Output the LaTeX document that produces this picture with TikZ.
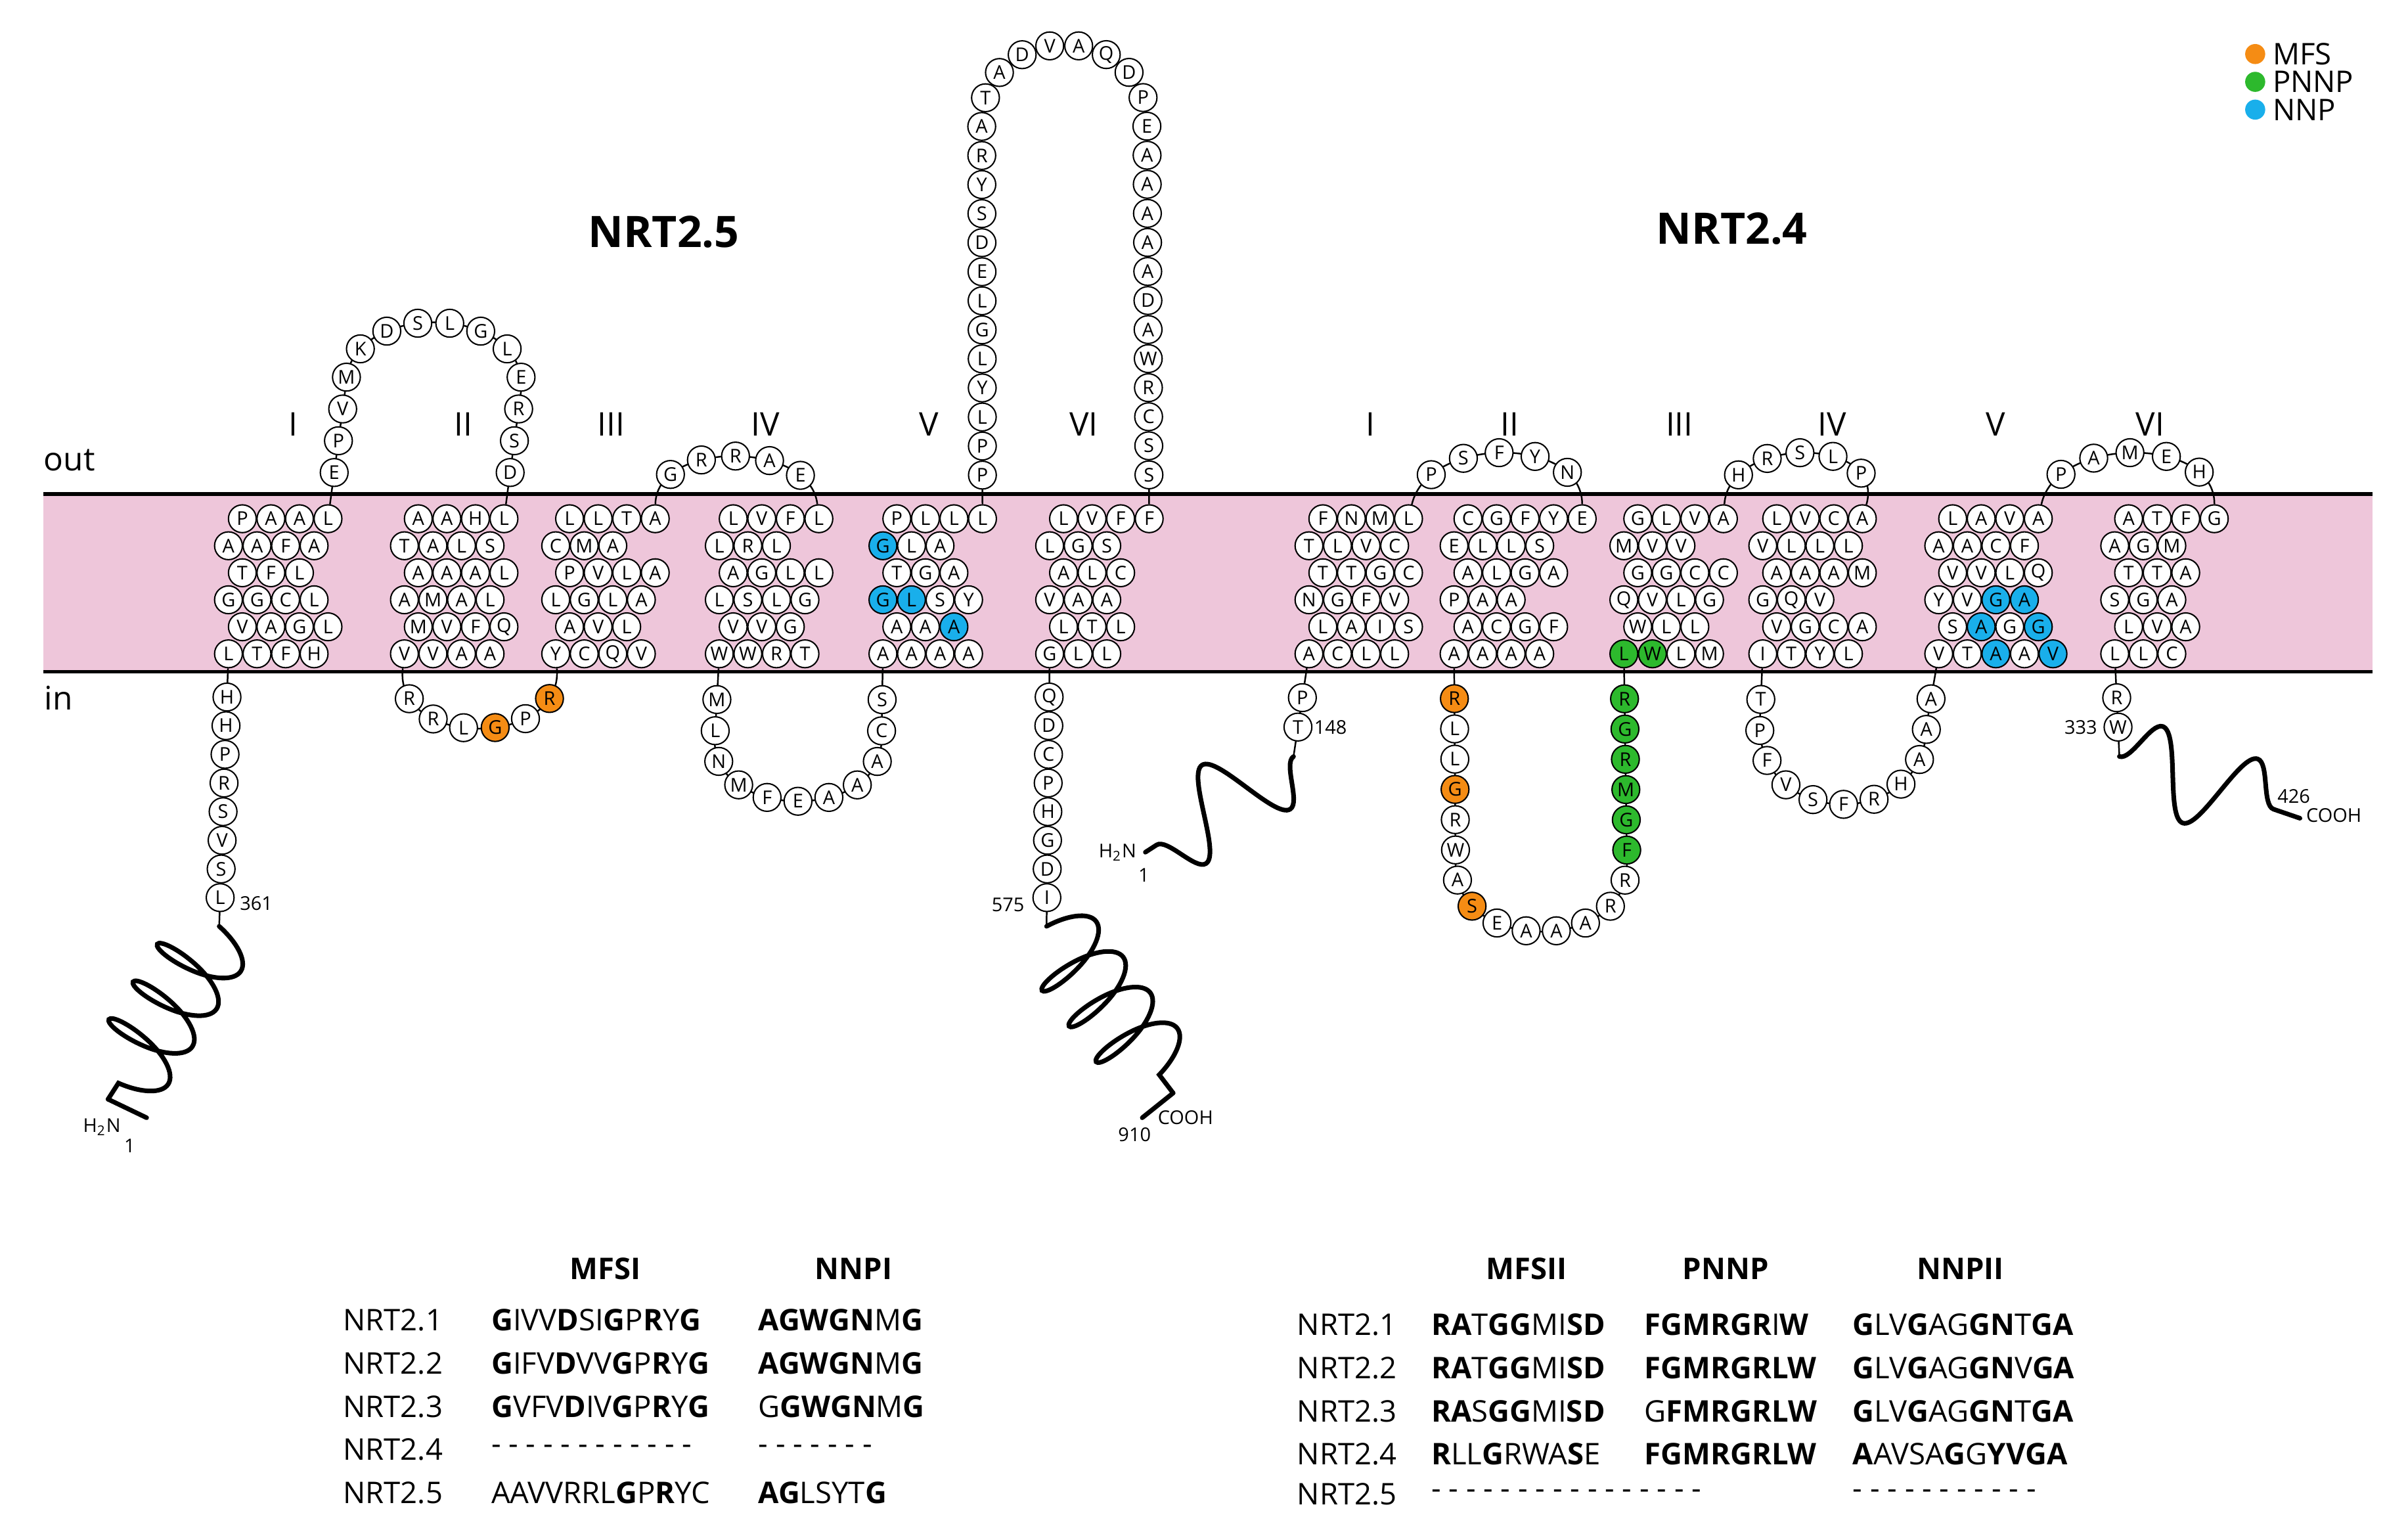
\documentclass[tikz,border=0pt]{standalone}
\usepackage{fontspec}
\setmainfont{Open Sans}
\usetikzlibrary{decorations.markings, decorations.pathmorphing}

\definecolor{mfsorange}{RGB}{245,140,20}
\definecolor{pnnpgreen}{RGB}{45,185,45}
\definecolor{nnpblue}{RGB}{25,175,235}
\definecolor{lipid}{RGB}{238,198,218}

% helix: name, x, y, rows of residues
\newcommand\helix[4]{%
  \foreach \row [count=\r] in {#4} {
    \foreach \c/\s [count=\k] in \row {
      \node[res, rc/\s/.try] (#1-\r-\k) at ({#2+(\k-1)*18.5+mod(\r,2)*9}, {#3+(\r-1)*17.5}) {\c};
    }
  }}

% loop: name, residues, path
\newcommand\resloop[3]{%
  \foreach \c [count=\n] in {#2}{\xdef\nres{\n}}%
  \pgfmathsetmacro\rstep{1/(\nres+1)}%
  \pgfmathsetmacro\rend{(\nres+0.5)/(\nres+1)}%
  \def\reslist{#2}%
  \draw[loopline, postaction={decorate}, decoration={markings,
    mark=between positions \rstep and \rend step \rstep with {%
      \pgfkeysgetvalue{/pgf/decoration/mark info/sequence number}\rseq
      \foreach \c/\s [count=\j] in \reslist {\ifnum\j=\rseq\relax\node[res, rc/\s/.try] (#1-\j) {\c};\fi}}}] #3;}

\begin{document}
\begin{tikzpicture}[x=0.02cm, y=-0.02cm,
    res/.style={circle, draw, fill=white, line width=0.5pt, minimum size=0.36cm, inner sep=0pt, font=\fontsize{7}{7}\selectfont},
    rc/o/.style={fill=mfsorange}, rc/g/.style={fill=pnnpgreen}, rc/b/.style={fill=nnpblue},
    loopline/.style={line width=0.6pt},
    tail/.style={line width=1.7pt, line cap=round},
    helixtail/.style={tail, decorate, decoration={coil, amplitude=0.55cm, segment length=0.58cm, aspect=0.35}},
    wavetail/.style={tail, decorate, decoration={snake, amplitude=0.55cm, segment length=1.3cm}},
    memline/.style={line width=1.3pt},
    lbl/.style={font=\fontsize{7}{7}\selectfont, inner sep=1pt},
    tm/.style={font=\fontsize{12}{12}\selectfont},
    title/.style={font=\fontsize{16}{16}\selectfont\bfseries},
    tab/.style={font=\fontsize{11}{11}\selectfont, anchor=west, inner sep=0pt},
    head/.style={font=\fontsize{11}{11}\selectfont\bfseries},
    dot/.style={circle, minimum size=0.26cm, inner sep=0pt}]
\useasboundingbox (0,0) rectangle (1560,992);

% membrane
\fill[lipid] (28,320) rectangle (1537,435);
\draw[memline] (28,320) -- (1537,320);
\draw[memline] (28,435) -- (1537,435);
\node[tm] (out) at (45,298) {out};
\node[tm] (in) at (38,452) {in};

% titles
\node[title] (t25) at (430,150) {NRT2.5};
\node[title] (t24) at (1122,148) {NRT2.4};
\foreach \x/\t [count=\i] in {190/I,300/II,396/III,496/IV,602/V,702/VI,888/I,978/II,1088/III,1187/IV,1293/V,1393/VI}
  \node[tm] (rn\i) at (\x,275) {\t};

% legend
\node[dot, fill=mfsorange] (lg1) at (1461,35) {};
\node[dot, fill=pnnpgreen] (lg2) at (1461,53) {};
\node[dot, fill=nnpblue] (lg3) at (1461,71) {};
\node[tab] (lt1) at (1472,35) {MFS};
\node[tab] (lt2) at (1472,53) {PNNP};
\node[tab] (lt3) at (1472,71) {NNP};

% NRT2.5 helices
\helix{a1}{148}{336}{{P,A,A,L},{A,A,F,A},{T,F,L},{G,G,C,L},{V,A,G,L},{L,T,F,H}}
\helix{a2}{262}{336}{{A,A,H,L},{T,A,L,S},{A,A,A,L},{A,M,A,L},{M,V,F,Q},{V,V,A,A}}
\helix{a3}{360}{336}{{L,L,T,A},{C,M,A},{P,V,L,A},{L,G,L,A},{A,V,L},{Y,C,Q,V}}
\helix{a4}{466}{336}{{L,V,F,L},{L,R,L},{A,G,L,L},{L,S,L,G},{V,V,G},{W,W,R,T}}
\helix{a5}{572}{336}{{P,L,L,L},{G/b,L,A},{T,G,A},{G/b,L/b,S,Y},{A,A,A/b},{A,A,A,A}}
\helix{a6}{680}{336}{{L,V,F,F},{L,G,S},{A,L,C},{V,A,A},{L,T,L},{G,L,L}}

% NRT2.5 loops
\resloop{la1}{E,P,V,M,K,D,S,L,G,L,E,R,S,D}{(a1-1-4) -- (224,250) .. controls (224,195) and (338,195) .. (338,250) -- (a2-1-4)}
\resloop{la2}{R,R,L,G/o,P,R/o}{(a2-6-1) .. controls (255,485) and (365,485) .. (a3-6-1)}
\resloop{la3}{G,R,R,A,E}{(a3-1-4) .. controls (425,285) and (525,285) .. (a4-1-4)}
\resloop{la4}{M,L,N,M,F,E,A,A,A,C,S}{(a4-6-1) -- (463,480) .. controls (463,532) and (571,532) .. (571,480) -- (a5-6-1)}
\resloop{la5}{P,P,L,Y,L,G,L,E,D,S,Y,R,A,T,A,D,V,A,Q,D,P,E,A,A,A,A,A,D,A,W,R,C,S,S}{(a5-1-4) -- (636,80) .. controls (636,12) and (743,12) .. (743,80) -- (a6-1-4)}
\coordinate (na5) at (142,600);
\coordinate (ca5) at (678,600);
\resloop{ln5}{H,H,P,R,S,V,S,L}{(a1-6-1) -- (na5)}
\resloop{lc5}{Q,D,C,P,H,G,D,I}{(a6-6-1) -- (ca5)}

% NRT2.5 tails
\coordinate (na5mid) at (70,712);
\coordinate (na5end) at (95,724);
\coordinate (ca5mid) at (760,708);
\coordinate (ca5end) at (740,724);
\draw[helixtail] (na5) -- (na5mid);
\draw[tail] (na5mid) -- (na5end);
\draw[helixtail] (ca5) -- (ca5mid);
\draw[tail] (ca5mid) -- (ca5end);
\node[lbl] (n361) at (166,585) {361};
\node[lbl] (n575) at (653,586) {575};
\node[lbl] (h2n5) at (66,730) {H\textsubscript{2}N};
\node[lbl] (one5) at (84,742) {1};
\node[lbl] (n910) at (735,735) {910};
\node[lbl] (cooh5) at (768,724) {COOH};

% NRT2.4 helices
\helix{b1}{848}{336}{{F,N,M,L},{T,L,V,C},{T,T,G,C},{N,G,F,V},{L,A,I,S},{A,C,L,L}}
\helix{b2}{942}{336}{{C,G,F,Y,E},{E,L,L,S},{A,L,G,A},{P,A,A},{A,C,G,F},{A,A,A,A}}
\helix{b3}{1052}{336}{{G,L,V,A},{M,V,V},{G,G,C,C},{Q,V,L,G},{W,L,L},{L/g,W/g,L,M}}
\helix{b4}{1142}{336}{{L,V,C,A},{V,L,L,L},{A,A,A,M},{G,Q,V},{V,G,C,A},{I,T,Y,L}}
\helix{b5}{1256}{336}{{L,A,V,A},{A,A,C,F},{V,V,L,Q},{Y,V,G/b,A/b},{S,A/b,G,G/b},{V,T,A/b,A,V/b}}
\helix{b6}{1370}{336}{{A,T,F,G},{A,G,M},{T,T,A},{S,G,A},{L,V,A},{L,L,C}}

% NRT2.4 loops
\resloop{lb1}{P,S,F,Y,N}{(b1-1-4) .. controls (925,282) and (1025,282) .. (b2-1-5)}
\resloop{lb2}{R/o,L,L,G/o,R,W,A,S/o,E,A,A,A,R,R,F/g,G/g,M/g,R/g,G/g,R/g}{(b2-6-1) -- (943,560) .. controls (943,618) and (1054,618) .. (1054,560) -- (b3-6-1)}
\resloop{lb3}{H,R,S,L,P}{(b3-1-4) .. controls (1120,282) and (1222,282) .. (b4-1-4)}
\resloop{lb4}{T,P,F,V,S,F,R,H,A,A,A}{(b4-6-1) -- (1140,470) .. controls (1140,538) and (1248,538) .. (1248,470) -- (b5-6-1)}
\resloop{lb5}{P,A,M,E,H}{(b5-1-4) .. controls (1332,282) and (1435,282) .. (b6-1-4)}
\coordinate (nb4) at (838,490);
\coordinate (cb4) at (1373,490);
\resloop{lnb}{P,T}{(b1-6-1) -- (nb4)}
\resloop{lcb}{R,W}{(b6-6-1) -- (cb4)}

% NRT2.4 tails
\coordinate (nb4end) at (742,552);
\coordinate (cb4end) at (1490,530);
\draw[wavetail] (nb4) -- (nb4end);
\draw[wavetail] (cb4) -- (cb4end);
\node[lbl] (n148) at (862,471) {148};
\node[lbl] (n333) at (1348,471) {333};
\node[lbl] (h2n4) at (724,552) {H\textsubscript{2}N};
\node[lbl] (one4) at (741,567) {1};
\node[lbl] (n426) at (1486,516) {426};
\node[lbl] (cooh4) at (1512,528) {COOH};

% alignment
\node[head] (hmfs1) at (392,822) {MFSI};
\node[head] (hnnp1) at (553,822) {NNPI};
\node[head] (hmfs2) at (989,822) {MFSII};
\node[head] (hpnnp) at (1118,822) {PNNP};
\node[head] (hnnp2) at (1270,822) {NNPII};
\foreach \y/\lab/\sa/\sb [count=\i] in {
  855/NRT2.1/{\textbf{G}IVV\textbf{D}SI\textbf{G}P\textbf{R}Y\textbf{G}}/{\textbf{AGWGN}M\textbf{G}},
  883/NRT2.2/{\textbf{G}IFV\textbf{D}VV\textbf{G}P\textbf{R}Y\textbf{G}}/{\textbf{AGWGN}M\textbf{G}},
  911/NRT2.3/{\textbf{G}VFV\textbf{D}IV\textbf{G}P\textbf{R}Y\textbf{G}}/{G\textbf{GWGN}M\textbf{G}},
  939/NRT2.4/{- - - - - - - - - - - -}/{- - - - - - -},
  967/NRT2.5/{AAVVRRL\textbf{G}P\textbf{R}YC}/{\textbf{AG}LSYT\textbf{G}}} {
  \node[tab] (la\i) at (222,\y) {\lab};
  \node[tab] (sa\i) at (318,\y) {\sa};
  \node[tab] (sb\i) at (491,\y) {\sb};
}
\foreach \y/\lab/\sa/\sb/\sc [count=\i] in {
  858/NRT2.1/{\textbf{RA}T\textbf{GG}MI\textbf{SD}}/{\textbf{FGMRGR}I\textbf{W}}/{\textbf{G}LV\textbf{G}AG\textbf{GN}T\textbf{GA}},
  886/NRT2.2/{\textbf{RA}T\textbf{GG}MI\textbf{SD}}/{\textbf{FGMRGRLW}}/{\textbf{G}LV\textbf{G}AG\textbf{GN}V\textbf{GA}},
  914/NRT2.3/{\textbf{RA}S\textbf{GG}MI\textbf{SD}}/{G\textbf{FMRGRLW}}/{\textbf{G}LV\textbf{G}AG\textbf{GN}T\textbf{GA}},
  942/NRT2.4/{\textbf{R}LL\textbf{G}RWA\textbf{S}E}/{\textbf{FGMRGRLW}}/{\textbf{A}AVSA\textbf{G}G\textbf{YVGA}},
  968/NRT2.5/{- - - - - - - - - - - - - - - -}/{}/{- - - - - - - - - - -}} {
  \node[tab] (lb\i) at (840,\y) {\lab};
  \node[tab] (sc\i) at (927,\y) {\sa};
  \node[tab] (sd\i) at (1065,\y) {\sb};
  \node[tab] (se\i) at (1200,\y) {\sc};
}
\end{tikzpicture}
\end{document}
